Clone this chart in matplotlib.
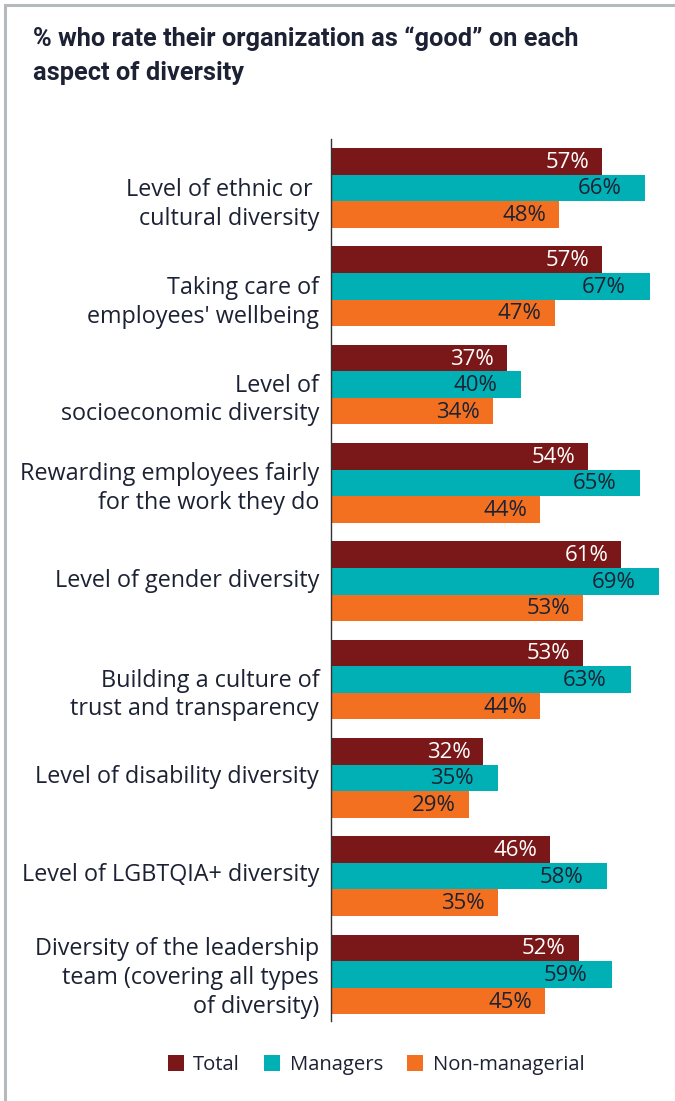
import numpy as np
import matplotlib
matplotlib.use("Agg")
import matplotlib.pyplot as plt
import matplotlib.transforms as mtransforms
from matplotlib.patches import Patch
from matplotlib.lines import Line2D

plt.rcParams['font.family'] = ['Open Sans', 'DejaVu Sans']

categories = [
    "Level of ethnic or \ncultural diversity",
    "Taking care of\nemployees' wellbeing",
    "Level of\nsocioeconomic diversity",
    "Rewarding employees fairly\nfor the work they do",
    "Level of gender diversity",
    "Building a culture of\ntrust and transparency",
    "Level of disability diversity",
    "Level of LGBTQIA+ diversity",
    "Diversity of the leadership\nteam (covering all types\nof diversity)",
]
total = [57, 57, 37, 54, 61, 53, 32, 46, 52]
managers = [66, 67, 40, 65, 69, 63, 35, 58, 59]
non_managerial = [48, 47, 34, 44, 53, 44, 29, 35, 45]
series_names = ["Total", "Managers", "Non-managerial"]

colors = ["#7a1718", "#00b0b4", "#f37021"]
label_colors = ["white", "#1c2233", "#1c2233"]
label_pad = [13, 24, 13]   # px inside the bar end
ink = "#1c2233"
# small vertical nudges (px, downwards) for the category labels
label_nudge = [11, 11, 10, 0, -3, 10, -4, -4, -2]

fig = plt.figure(figsize=(6.75, 11.01), dpi=100)
ax = fig.add_axes([331 / 675, 80.5 / 1101, 344 / 675, 881 / 1101])

y = np.arange(len(categories))
h = 0.27
for k, vals in enumerate([total, managers, non_managerial]):
    ypos = y + (k - 1) * h
    ax.barh(ypos, vals, height=h, color=colors[k], edgecolor='none')
    for yy, v in zip(ypos, vals):
        ax.annotate(f"{v}%", xy=(v, yy), xytext=(-label_pad[k], -1),
                    textcoords='offset pixels', ha='right', va='center',
                    fontsize=16, color=label_colors[k])

ax.set_xlim(0, 344 / 4.76)
ax.set_ylim(8.468, -0.493)
ax.set_yticks(y)
ax.set_yticklabels(categories, fontsize=16.8, color=ink, linespacing=1.27)
ax.tick_params(axis='y', length=0, pad=8.5)
for lbl, dy in zip(ax.get_yticklabels(), label_nudge):
    shift = mtransforms.ScaledTranslation(0, -dy / 100, fig.dpi_scale_trans)
    lbl.set_transform(lbl.get_transform() + shift)
ax.set_xticks([])
for s in ['top', 'right', 'bottom']:
    ax.spines[s].set_visible(False)
ax.spines['left'].set_color('#333333')
ax.spines['left'].set_linewidth(1.0)

# two-line bold title
title_lines = ["% who rate their organization as \u201cgood\u201d on each",
               "aspect of diversity"]
for i, line in enumerate(title_lines):
    fig.text(33 / 675, 1 - (39 + 34 * i) / 1101, line, ha='left', va='center',
             fontsize=18.3, fontweight='bold', color=ink, family='Roboto')

# outer frame (top and left edges)
frame_kw = dict(color='#b4babe', linewidth=2.2, transform=fig.transFigure)
fig.add_artist(Line2D([4.5 / 675, 1], [1 - 5 / 1101, 1 - 5 / 1101], **frame_kw))
fig.add_artist(Line2D([4.5 / 675, 4.5 / 675], [0, 1 - 5 / 1101], **frame_kw))

handles = [Patch(facecolor=c, edgecolor='none') for c in colors]
fig.legend(handles, series_names, loc='center', ncol=3,
           bbox_to_anchor=(376 / 675, 1 - 1065 / 1101), frameon=False,
           fontsize=14.6, handlelength=0.8, handleheight=0.8,
           handletextpad=0.45, columnspacing=1.2, labelcolor=ink)

fig.savefig("out.png", dpi=100, facecolor='white')
